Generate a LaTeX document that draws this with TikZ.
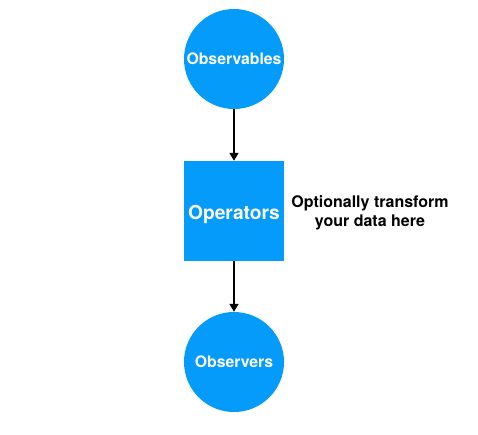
\documentclass[tikz,border=0pt]{standalone}
\usepackage{fontspec}
\setmainfont{TeX Gyre Heros}
\usetikzlibrary{arrows.meta}
\definecolor{rxblue}{RGB}{5,155,250}
\tikzset{
    stream/.style={circle, fill=rxblue, minimum size=100pt, inner sep=0pt, text=white, text height=13pt, text depth=3pt, font=\bfseries\fontsize{15.8}{18}\selectfont},
    opbox/.style={rectangle, fill=rxblue, minimum size=100pt, inner sep=0pt, text=white, text height=21pt, text depth=4pt, font=\bfseries\fontsize{19.2}{22}\selectfont},
    flow/.style={line width=1.6pt, -{Triangle[length=8pt,width=9pt]}}
}
\begin{document}
\begin{tikzpicture}[x=1pt,y=-1pt]
    \useasboundingbox (0,0) rectangle (478,434);

    \node[stream] (obs) at (234,59) {Observables};
    \node[opbox] (ops) at (234,211) {Operators};
    \node[stream] (obsv) at (234,362) {Observers};

    \node[align=center, font=\bfseries\fontsize{16}{19}\selectfont] (note) at (370,213) {Optionally transform\\your data here};

    \draw[flow] (obs) -- (ops); \draw[flow] (ops) -- (obsv);
\end{tikzpicture}
\end{document}
